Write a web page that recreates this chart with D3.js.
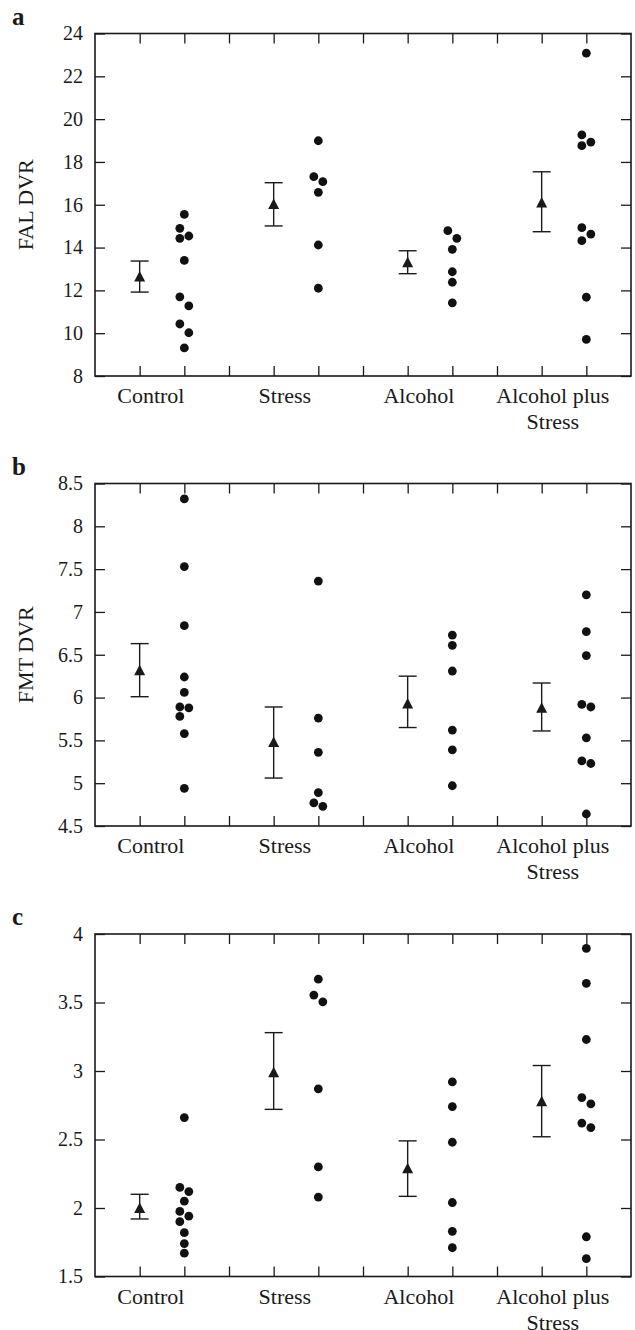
<!DOCTYPE html>
<html>
<head>
<meta charset="utf-8">
<script src="https://cdn.jsdelivr.net/npm/d3@7"></script>
<style>
  html, body { margin: 0; padding: 0; background: #fff; }
  svg { display: block; font-family: "Liberation Serif", "Times New Roman", serif; }
</style>
</head>
<body>
<svg id="chart" width="635" height="1330"></svg>
<script>
// ---------- data ----------
const categories = ["Control", "Stress", "Alcohol", "Alcohol plus Stress"];
const categoryLines = [["Control"], ["Stress"], ["Alcohol"], ["Alcohol plus", "Stress"]];

// Panel a: FAL DVR
const falTicks = [8, 10, 12, 14, 16, 18, 20, 22, 24];
const falMean = [12.65, 16.04, 13.31, 16.11];
const falLow  = [11.92, 15.01, 12.78, 14.74];
const falHigh = [13.37, 17.03, 13.85, 17.54];
const falControl  = [15.55, 14.90, 14.54, 14.43, 13.40, 11.70, 11.28, 10.43, 10.02, 9.31];
const falStress   = [18.99, 17.31, 17.08, 16.58, 14.12, 12.10];
const falAlcohol  = [14.79, 14.43, 13.92, 12.87, 12.38, 11.42];
const falAlcStress = [23.08, 19.26, 18.93, 18.76, 14.93, 14.63, 14.32, 11.68, 9.71];

// Panel b: FMT DVR
const fmtTicks = [4.5, 5, 5.5, 6, 6.5, 7, 7.5, 8, 8.5];
const fmtMean = [6.32, 5.48, 5.93, 5.88];
const fmtLow  = [6.01, 5.06, 5.65, 5.61];
const fmtHigh = [6.63, 5.89, 6.25, 6.17];
const fmtControl  = [8.32, 7.53, 6.84, 6.24, 6.06, 5.89, 5.88, 5.78, 5.58, 4.94];
const fmtStress   = [7.36, 5.76, 5.36, 4.89, 4.77, 4.73];
const fmtAlcohol  = [6.73, 6.61, 6.31, 5.62, 5.39, 4.97];
const fmtAlcStress = [7.20, 6.77, 6.49, 5.92, 5.89, 5.53, 5.26, 5.23, 4.64];

// Panel c
const cTicks = [1.5, 2, 2.5, 3, 3.5, 4];
const cMean = [2.00, 2.99, 2.29, 2.78];
const cLow  = [1.92, 2.72, 2.085, 2.52];
const cHigh = [2.10, 3.28, 2.49, 3.04];
const cControl  = [2.66, 2.15, 2.12, 2.05, 1.975, 1.94, 1.90, 1.82, 1.74, 1.67];
const cStress   = [3.67, 3.554, 3.505, 2.87, 2.30, 2.08];
const cAlcohol  = [2.92, 2.74, 2.48, 2.04, 1.83, 1.71];
const cAlcStress = [3.895, 3.64, 3.23, 2.806, 2.76, 2.62, 2.587, 1.79, 1.63];

// ---------- drawing ----------
const panels = [
  { letter: "a", ylabel: "FAL DVR", ticks: falTicks, mean: falMean, low: falLow, high: falHigh,
    points: [falControl, falStress, falAlcohol, falAlcStress], top: 33.5 },
  { letter: "b", ylabel: "FMT DVR", ticks: fmtTicks, mean: fmtMean, low: fmtLow, high: fmtHigh,
    points: [fmtControl, fmtStress, fmtAlcohol, fmtAlcStress], top: 483.5 },
  { letter: "c", ylabel: "", ticks: cTicks, mean: cMean, low: cLow, high: cHigh,
    points: [cControl, cStress, cAlcohol, cAlcStress], top: 934 }
];

const svg = d3.select("#chart");
const left = 95, right = 631, plotH = 342.5;
const ink = "#1a1a1a";
const x = d3.scaleLinear().domain([0, 12]).range([left, right]);
const slotTicks = d3.range(1, 12);
const dotR = 4.4;

function dodge(values, y) {
  // sort descending; chain points closer than threshold into clusters; alternate sides
  const sorted = values.map((v, i) => ({ v, i })).sort((a, b) => b.v - a.v);
  const off = new Array(values.length).fill(0);
  let cluster = [];
  const flush = () => {
    if (cluster.length > 1) cluster.forEach((p, k) => { off[p.i] = (k % 2 === 0 ? -4.5 : 4.5); });
    cluster = [];
  };
  sorted.forEach((p, k) => {
    if (k > 0 && Math.abs(y(p.v) - y(sorted[k - 1].v)) < 9) cluster.push(p);
    else { flush(); cluster.push(p); }
  });
  flush();
  return off;
}

panels.forEach(p => {
  const top = p.top, bottom = top + plotH;
  const y = d3.scaleLinear().domain([p.ticks[0], p.ticks[p.ticks.length - 1]]).range([bottom, top]);
  const g = svg.append("g");

  // axes with inward ticks
  const fmt = d => String(d);
  g.append("g").attr("transform", `translate(${left},0)`)
    .call(d3.axisLeft(y).tickValues(p.ticks).tickSize(-10).tickSizeOuter(0).tickPadding(12).tickFormat(fmt))
    .call(a => a.select(".domain").remove())
    .call(a => a.selectAll("line").attr("stroke", ink).attr("stroke-width", 1.3))
    .call(a => a.selectAll("text").attr("fill", ink).attr("font-size", 20)
      .attr("font-family", "Liberation Serif"));
  g.append("g").attr("transform", `translate(${right},0)`)
    .call(d3.axisRight(y).tickValues(p.ticks).tickSize(-10).tickSizeOuter(0).tickFormat(""))
    .call(a => a.select(".domain").remove())
    .call(a => a.selectAll("line").attr("stroke", ink).attr("stroke-width", 1.3));
  g.append("g").attr("transform", `translate(0,${bottom})`)
    .call(d3.axisBottom(x).tickValues(slotTicks).tickSize(-10).tickSizeOuter(0).tickFormat(""))
    .call(a => a.select(".domain").remove())
    .call(a => a.selectAll("line").attr("stroke", ink).attr("stroke-width", 1.3));
  g.append("g").attr("transform", `translate(0,${top})`)
    .call(d3.axisTop(x).tickValues(slotTicks).tickSize(-10).tickSizeOuter(0).tickFormat(""))
    .call(a => a.select(".domain").remove())
    .call(a => a.selectAll("line").attr("stroke", ink).attr("stroke-width", 1.3));

  // frame
  g.append("rect").attr("x", left).attr("y", top).attr("width", right - left).attr("height", plotH)
    .attr("fill", "none").attr("stroke", ink).attr("stroke-width", 1.6);

  // category labels
  categoryLines.forEach((lines, i) => {
    const t = g.append("text").attr("x", x(1.25 + 3 * i)).attr("y", bottom + 27)
      .attr("text-anchor", "middle").attr("font-size", 22).attr("fill", ink);
    lines.forEach((ln, k) => t.append("tspan").attr("x", x(1.25 + 3 * i)).attr("dy", k === 0 ? 0 : 26).text(ln));
  });

  // y label
  if (p.ylabel) {
    g.append("text").attr("transform", `translate(33,${(top + bottom) / 2}) rotate(-90)`)
      .attr("text-anchor", "middle").attr("font-size", 22).attr("fill", ink).text(p.ylabel);
  }
  // panel letter
  g.append("text").attr("x", 12).attr("y", top - 9).attr("font-size", 25).attr("font-weight", "bold")
    .attr("fill", ink).text(p.letter);

  // means with error bars
  categories.forEach((c, i) => {
    const cx = x(1 + 3 * i);
    const eb = g.append("g");
    eb.append("line").attr("x1", cx).attr("x2", cx).attr("y1", y(p.low[i])).attr("y2", y(p.high[i]))
      .attr("stroke", ink).attr("stroke-width", 1.4);
    [p.low[i], p.high[i]].forEach(v => {
      eb.append("line").attr("x1", cx - 9).attr("x2", cx + 9).attr("y1", y(v)).attr("y2", y(v))
        .attr("stroke", ink).attr("stroke-width", 1.4);
    });
    const my = y(p.mean[i]);
    eb.append("path").attr("d", `M${cx},${my - 5.5}L${cx + 5.5},${my + 5}L${cx - 5.5},${my + 5}Z`)
      .attr("fill", ink);
  });

  // individual points
  p.points.forEach((vals, i) => {
    const cx = x(2 + 3 * i);
    const off = dodge(vals, y);
    g.append("g").selectAll("circle").data(vals).join("circle")
      .attr("cx", (d, k) => cx + off[k]).attr("cy", d => y(d)).attr("r", dotR).attr("fill", "#111");
  });
});
</script>
</body>
</html>
